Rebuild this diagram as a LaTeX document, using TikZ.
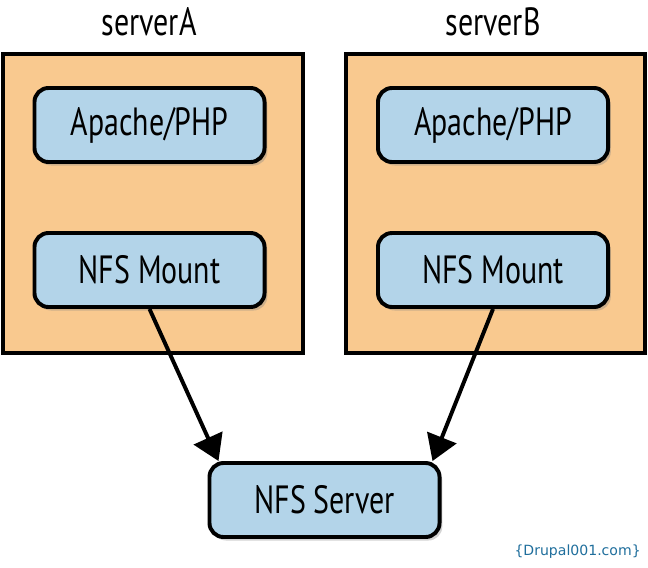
\documentclass[tikz,border=0pt]{standalone}
\usepackage{fontspec}
\setmainfont{PT Sans}[FakeStretch=0.76]
\newfontfamily\markfont{DejaVu Sans}
\usepackage{tikz}
\usetikzlibrary{arrows.meta, positioning, calc, shadows}
\definecolor{serverfill}{RGB}{249,201,143}
\definecolor{boxfill}{RGB}{179,212,233}
\definecolor{marktext}{RGB}{31,110,156}

\begin{document}
\begin{tikzpicture}[x=0.025cm, y=-0.025cm, every node/.style={font=\fontsize{28}{31}\selectfont}]
  \useasboundingbox (0,0) rectangle (648,567);

  \tikzset{
    serverbox/.style={draw, line width=2.8pt, fill=serverfill},
    service/.style={draw, line width=2.8pt, fill=boxfill, rounded corners=10pt,
      minimum width=5.75cm, minimum height=1.85cm, inner sep=0pt,
      drop shadow={opacity=0.35, shadow xshift=2pt, shadow yshift=-2.5pt}},
    arr/.style={line width=2.8pt, -{Triangle[length=18pt, width=22pt]}}
  }

  % the two web servers
  \draw[serverbox] (3,54) rectangle (303,353);
  \draw[serverbox] (346,54) rectangle (645,353);
  \node (titleA) at (149,22) {serverA};
  \node (titleB) at (493,22) {serverB};

  \node[service] (phpA) at (149.5,125) {Apache/PHP};
  \node[service] (mountA) at (149.5,270) {NFS Mount};
  \node[service] (phpB) at (493,125) {Apache/PHP};
  \node[service] (mountB) at (493,270) {NFS Mount};

  % shared storage
  \node[service] (nfs) at (324.5,500) {NFS Server};

  \draw[arr] (mountA.south) -- ($(nfs.north west)+(11,0)$);
  \draw[arr] (mountB.south) -- ($(nfs.north east)+(-9,0)$);

  \node[font=\markfont\fontsize{10}{12}\selectfont, text=marktext, anchor=east, inner sep=0pt] (mark) at (641,552) {\{Drupal001.com\}};
\end{tikzpicture}
\end{document}
